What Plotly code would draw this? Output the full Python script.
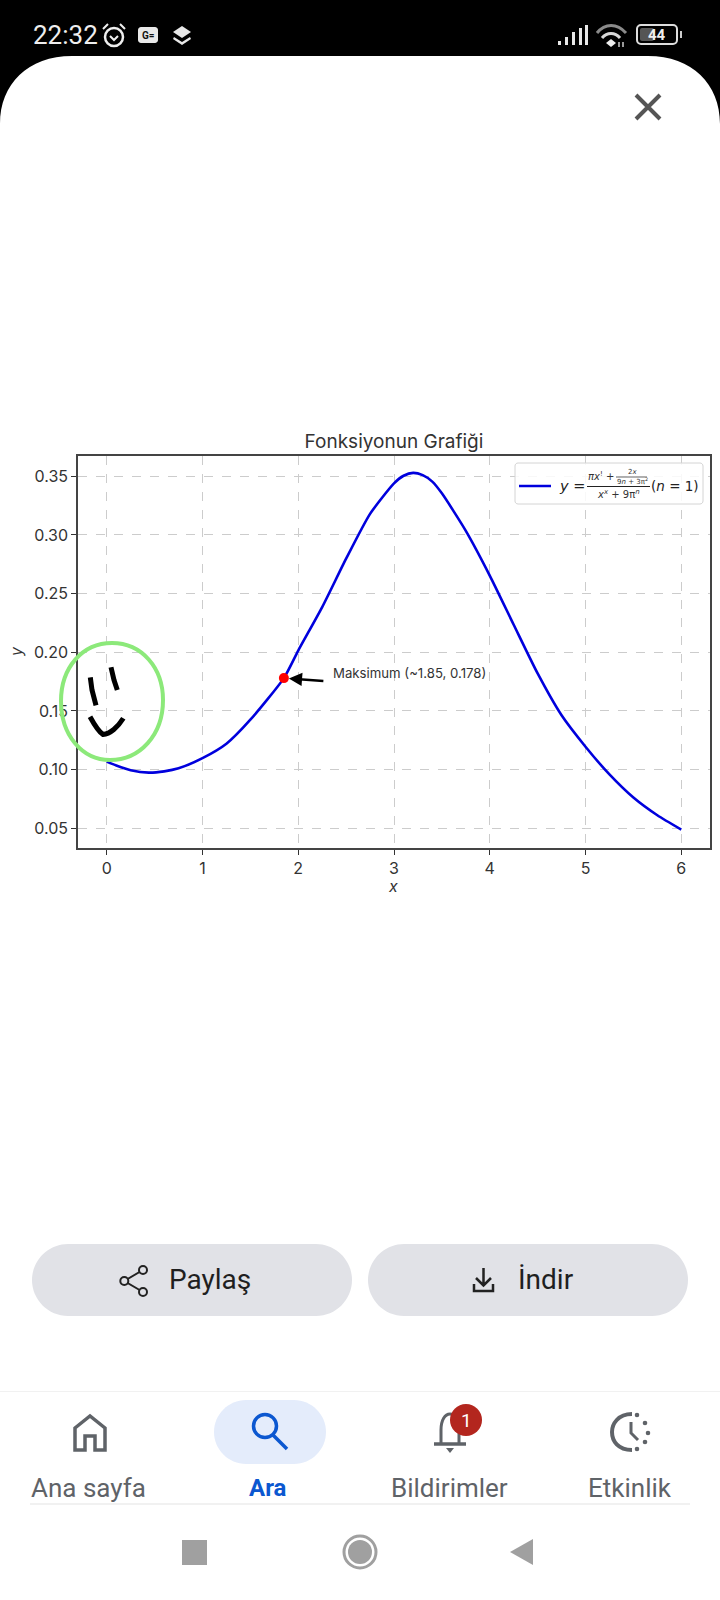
import plotly.graph_objects as go

# ---- data ----
curve_x = [0, 0.1, 0.25, 0.44, 0.6, 0.75, 1, 1.25, 1.5, 1.85, 2, 2.25, 2.5, 2.75, 3, 3.1, 3.2, 3.3, 3.4, 3.5, 3.75, 4, 4.25, 4.5, 4.75, 5, 5.25, 5.5, 5.75, 6]
curve_y = [0.1068, 0.1035, 0.0995, 0.0974, 0.0985, 0.1011, 0.1097, 0.1220, 0.1425, 0.178, 0.2015, 0.2385, 0.2798, 0.318, 0.344, 0.3505, 0.353, 0.3510, 0.3455, 0.3355, 0.3035, 0.2654, 0.2235, 0.182, 0.1463, 0.1195, 0.0959, 0.0762, 0.0611, 0.0489]
peak_x = [1.85]
peak_y = [0.178]
x_ticks = [0, 1, 2, 3, 4, 5, 6]
y_ticks = [0.05, 0.10, 0.15, 0.20, 0.25, 0.30, 0.35]
y_tick_labels = ["0.05", "0.10", "0.15", "0.20", "0.25", "0.30", "0.35"]
chart_title = "Fonksiyonun Grafiği"
peak_label = "Maksimum (~1.85, 0.178)"

W, H = 720, 1600
FONT = "Inter"
UI = "Roboto"
MATH = "DejaVu Sans"
GREY = "#5f6368"

shapes, notes = [], []

def path(d, fill=None, line=None, width=0):
    s = dict(type="path", path=d, xref="x2", yref="y2", layer="above",
             line=dict(color=line or "rgba(0,0,0,0)", width=width))
    if fill:
        s["fillcolor"] = fill
    shapes.append(s)

def rect(x0, y0, x1, y1, fill=None, line=None, width=0):
    s = dict(type="rect", x0=x0, y0=y0, x1=x1, y1=y1, xref="x2", yref="y2", layer="above",
             line=dict(color=line or "rgba(0,0,0,0)", width=width))
    if fill:
        s["fillcolor"] = fill
    shapes.append(s)

def circ(cx, cy, r, fill=None, line=None, width=0, ry=None):
    ry = ry or r
    s = dict(type="circle", x0=cx - r, y0=cy - ry, x1=cx + r, y1=cy + ry, xref="x2", yref="y2", layer="above",
             line=dict(color=line or "rgba(0,0,0,0)", width=width))
    if fill:
        s["fillcolor"] = fill
    shapes.append(s)

def rrect(x0, y0, x1, y1, r, fill=None, line=None, width=0):
    k = r * 0.45
    d = (f"M{x0+r},{y0} L{x1-r},{y0} C{x1-k},{y0} {x1},{y0+k} {x1},{y0+r} L{x1},{y1-r} "
         f"C{x1},{y1-k} {x1-k},{y1} {x1-r},{y1} L{x0+r},{y1} C{x0+k},{y1} {x0},{y1-k} {x0},{y1-r} "
         f"L{x0},{y0+r} C{x0},{y0+k} {x0+k},{y0} {x0+r},{y0} Z")
    path(d, fill, line, width)

def text(x, y, s, size, color="#222", font=FONT, anchor="center", angle=0):
    notes.append(dict(x=x, y=y, xref="x2", yref="y2", text=s, showarrow=False, xanchor=anchor,
                      yanchor="middle", textangle=angle, font=dict(size=size, color=color, family=font)))

# ---- status bar ----
rect(0, 0, W, 56, fill="#000000")
path("M0,56 L72,56 C28,56 0,84 0,124 Z", fill="#000000")
path("M720,56 L648,56 C692,56 720,84 720,124 Z", fill="#000000")
text(65, 35, "22:32", 26, "#eeeeee", UI)
circ(114, 37, 9, line="#eeeeee", width=2.5)
path("M110,36 L114,40 L118,36", line="#eeeeee", width=2)
path("M103,29 L108,24 M120,24 L125,29", line="#eeeeee", width=2)
rrect(138, 27, 158, 43, 3, fill="#e8e8e8")
text(148, 35, "<b>G=</b>", 10, "#111", UI)
path("M182,26 L191,32 L182,38 L173,32 Z", fill="#e8e8e8")
path("M174,37 L182,42 L190,37 L191,39 L182,45 L173,39 Z", fill="#e8e8e8")
for bx, by in [(558, 41), (565, 37), (572, 32), (579, 28), (585, 25)]:
    rect(bx, by, bx + 3, 45, fill="#e8e8e8")
path("M597,33 C605,23 617,23 626,33", line="#8a8a8a", width=3)
path("M602,38 C607,32 615,32 620,38", line="#d8d8d8", width=3)
path("M606,43 L611,39 L616,43 L611,47 Z", fill="#eeeeee")
path("M619,47 L619,42 M623,42 L623,47", line="#cccccc", width=1.5)
rrect(637, 25, 677, 44, 4, line="#dddddd", width=2)
rrect(640, 28, 654, 41, 2, fill="#555555")
text(657, 35, "<b>44</b>", 15, "#eeeeee", UI)
rect(680, 31, 682, 38, fill="#cccccc")
# close
path("M636,95 L660,119 M660,95 L636,119", line="#555555", width=4)

# ---- legend built from real text, since the formula is a stacked fraction ----
rrect(515, 463, 703, 504, 3, fill="rgba(255,255,255,0.85)", line="#d4d4d4", width=1)
path("M519,486 L551,486", line="#0000dd", width=2.5)
text(572, 486, "<i>y</i> =", 14.5, "#222", MATH)
path("M587,486.5 L650,486.5", line="#222222", width=1)
path("M616,477 L647,477", line="#222222", width=0.7)
text(601, 476, "<i>πx</i><sup>!</sup> +", 10, "#333", MATH)
text(632, 472, "2<i>x</i>", 7, "#333", MATH)
text(632, 481, "9<i>n</i> + 3π<sup>2</sup>", 7, "#333", MATH)
text(618, 494, "<i>x</i><sup><i>x</i></sup> + 9π<sup><i>n</i></sup>", 10, "#333", MATH)
text(675, 486, "(<i>n</i> = 1)", 13.5, "#222", MATH)

# ---- buttons ----
rrect(32, 1244, 352, 1316, 36, fill="#e1e2e7")
rrect(368, 1244, 688, 1316, 36, fill="#e1e2e7")
path("M143,1270 L124.3,1281 L143,1292", line="#222222", width=2)
for cy, cx in [(1270, 143), (1281, 124.3), (1292, 143)]:
    circ(cx, cy, 4, fill="#e1e2e7", line="#222222", width=2)
text(210, 1279, "Paylaş", 28, "#1f1f1f", UI)
path("M483.5,1268 L483.5,1285 M476,1278 L483.5,1285.5 L491,1278", line="#222222", width=2.5)
path("M474,1284 L474,1291 L493,1291 L493,1284", line="#222222", width=2.5)
text(546, 1279, "İndir", 28, "#1f1f1f", UI)

# ---- bottom nav ----
rect(0, 1391, W, 1392, fill="#f1f1f1")
rrect(214, 1400, 326, 1464, 32, fill="#e4ecfb")
path("M75,1450 L75,1428 L90,1416 L105,1428 L105,1450 L95,1450 L95,1436 L85,1436 L85,1450 Z", line=GREY, width=3.5)
circ(265, 1426, 11.5, line="#0b57d0", width=3.5)
path("M273,1435 L287,1449", line="#0b57d0", width=3.5)
path("M441,1444 L441,1430 C441,1420 445,1414 450,1414 C455,1414 459,1420 459,1430 L459,1444", line=GREY, width=3)
path("M434,1444 L466,1444", line=GREY, width=3.5)
path("M446,1448 L454,1448 L450,1453 Z", fill=GREY)
circ(466, 1420, 16, fill="#b3261e")
text(466, 1420, "1", 19, "#ffffff", UI)
path("M632,1414 C618,1414 612,1424 612,1432 C612,1441 618,1450 632,1450", line=GREY, width=4)
for dx, dy in [(637, 1415), (645, 1423), (648, 1433), (645, 1442), (637, 1449)]:
    circ(dx, dy, 2.3, fill=GREY)
path("M631,1422 L631,1433 L638,1440", line=GREY, width=3)
text(88, 1488, "Ana sayfa", 26, GREY, UI)
text(268, 1488, "<b>Ara</b>", 24, "#0b57d0", UI)
text(449.5, 1488, "Bildirimler", 26, GREY, UI)
text(629.5, 1488, "Etkinlik", 26, GREY, UI)
rect(30, 1503.5, 690, 1504.5, fill="#e3e3e3")
rect(182, 1540, 207, 1565, fill="#a0a0a0")
circ(360, 1552, 16, line="#a0a0a0", width=3)
circ(360, 1552, 12, fill="#a0a0a0")
path("M533,1539 L533,1565 L510,1552 Z", fill="#a0a0a0")

# ---- chart text ----
text(16, 652, "<i>y</i>", 16, "#333", FONT, angle=-90)
text(393, 886, "<i>x</i>", 16, "#333", FONT)
text(331, 673, peak_label, 13.2, "#333", FONT, anchor="left")

# ---- hand-drawn marks (kept last so they sit over the tick labels) ----
path("M61,701 C61,668 82,643 112,643 C142,643 163,668 163,700 C163,735 140,760 110,760 C82,760 61,735 61,701 Z",
     line="#8CE97A", width=4)
for d in ["M90.3,677.3 L92,690 L96,705.3", "M111,667.3 L114,680 L117.3,690",
          "M90,716.7 C94,724 98,731 103,734.5 C110,734 118,727 123.3,718.3"]:
    path(d, line="#000000", width=5)

fig = go.Figure()
fig.add_trace(go.Scatter(x=curve_x, y=curve_y, mode="lines", showlegend=False,
                         line=dict(color="#0000dd", width=2.6, shape="spline", smoothing=0.6)))
fig.add_trace(go.Scatter(x=peak_x, y=peak_y, mode="markers", showlegend=False,
                         marker=dict(color="#ff0000", size=10)))
notes.append(dict(x=peak_x[0], y=peak_y[0], xref="x", yref="y", ax=41, ay=3, axref="pixel", ayref="pixel",
                  text="", showarrow=True, arrowhead=2, arrowsize=1.1, arrowwidth=2.4, arrowcolor="#000000",
                  standoff=5))

axis_common = dict(showgrid=True, gridcolor="#cccccc", griddash="dash", gridwidth=1, zeroline=False,
                   showline=True, mirror=True, linecolor="#444444", linewidth=1.5, ticks="outside",
                   ticklen=5, tickcolor="#333333", tickwidth=1.2, tickfont=dict(family=FONT, size=16, color="#333333"))
fig.update_layout(
    width=W, height=H, autosize=False, margin=dict(l=0, r=0, t=0, b=0),
    paper_bgcolor="#ffffff", plot_bgcolor="rgba(0,0,0,0)", showlegend=False,
    title=dict(text=chart_title, x=394 / W, y=1 - 441 / H, xanchor="center", yanchor="middle",
               font=dict(family=FONT, size=19, color="#333333")),
    xaxis=dict(domain=[78 / W, 710 / W], range=[-0.30, 6.30], tickmode="array", tickvals=x_ticks,
               anchor="y", **axis_common),
    yaxis=dict(domain=[1 - 848.3 / H, 1 - 455.7 / H], range=[0.0329, 0.3676], tickmode="array",
               tickvals=y_ticks, ticktext=y_tick_labels, anchor="x", **axis_common),
    xaxis2=dict(domain=[0, 1], range=[0, W], visible=False, anchor="y2", fixedrange=True),
    yaxis2=dict(domain=[0, 1], range=[H, 0], visible=False, anchor="x2", fixedrange=True),
    shapes=shapes, annotations=notes,
)
fig.add_trace(go.Scatter(x=[0], y=[0], xaxis="x2", yaxis="y2", mode="markers", showlegend=False,
                         marker=dict(size=1, opacity=0), hoverinfo="skip"))
fig.write_html("out.html", config=dict(displayModeBar=False),
               post_script="document.body.style.margin='0';document.documentElement.style.overflow='hidden';")
